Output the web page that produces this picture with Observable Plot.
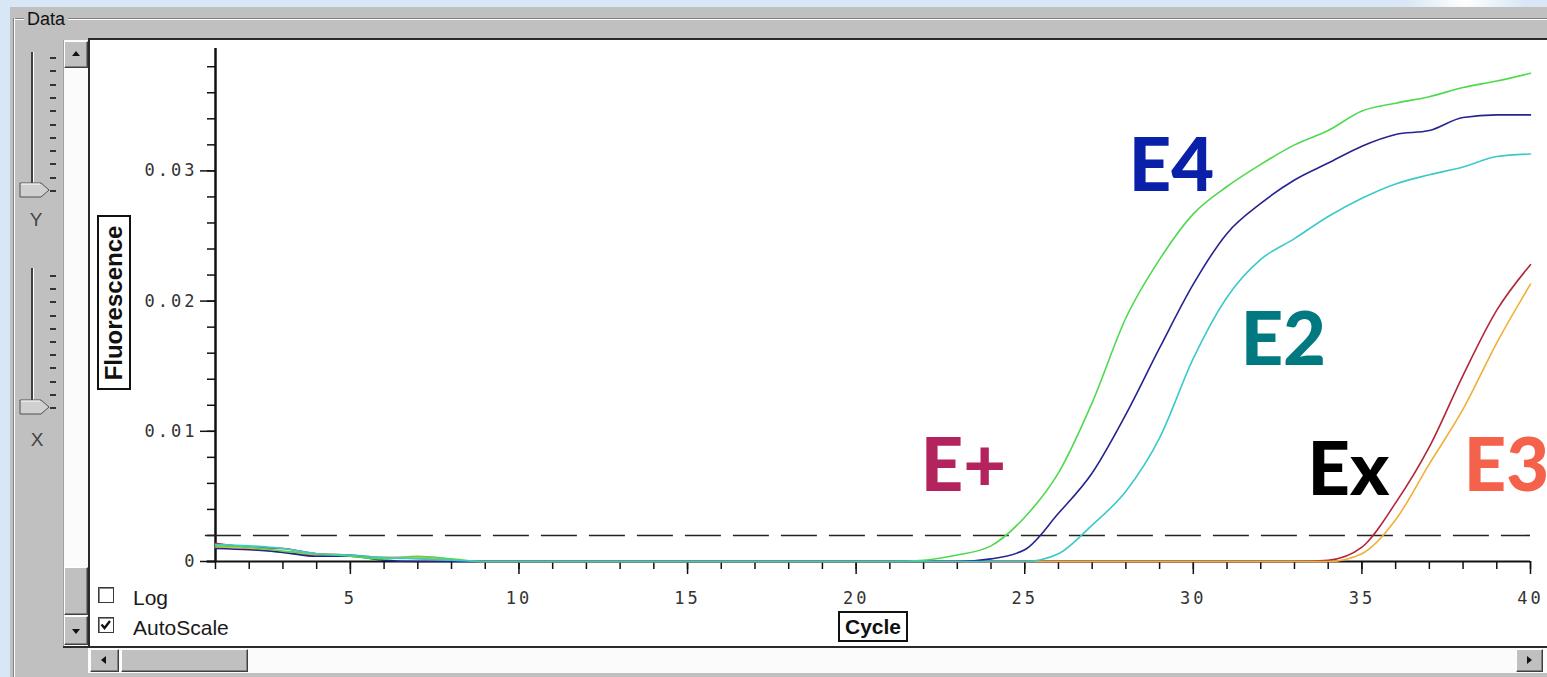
<!DOCTYPE html>
<html><head><meta charset="utf-8">
<script src="https://cdn.jsdelivr.net/npm/d3@7"></script>
<script src="https://cdn.jsdelivr.net/npm/@observablehq/plot@0.6"></script>
<style>
html,body{margin:0;padding:0;}
body{width:1547px;height:677px;position:relative;overflow:hidden;
  background:radial-gradient(ellipse 60px 40px at 1465px 0px,#ffffff 0%,#e8f0fa 60%,rgba(216,231,246,0) 100%),#d8e7f6;
  font-family:"Liberation Sans",Arial,sans-serif;}
.a{position:absolute;box-sizing:border-box;}
.btn{background:#c0c0c0;border-top:1px solid #fff;border-left:1px solid #fff;border-bottom:1px solid #404040;border-right:1px solid #404040;box-shadow:inset -1px -1px #808080;}
.tri{position:absolute;width:0;height:0;}
.cb{width:16px;height:16px;background:#fff;border:1px solid #3a3a3a;box-shadow:inset 1px 1px #8a8a8a;}
.cbtxt{font-size:21px;color:#1a1a1a;line-height:21px;}
#chart svg{display:block;}
</style></head>
<body>
<div class="a" style="left:10px;top:7px;width:1537px;height:670px;background:#c0c0c0;"></div>
<!-- group box etched lines -->
<div class="a" style="left:13px;top:18px;width:1534px;height:2px;border-top:1px solid #808080;border-bottom:1px solid #fff;"></div>
<div class="a" style="left:13px;top:18px;width:2px;height:659px;border-left:1px solid #808080;border-right:1px solid #fff;"></div>
<div class="a" style="left:24px;top:9px;padding:0 3px;background:#c0c0c0;font-size:18px;line-height:20px;color:#111;">Data</div>

<!-- sliders -->
<div class="a" style="left:31px;top:52px;width:3px;height:140px;background:#404040;border-right:1px solid #fff;"></div>
<div id="yticks"></div>
<div class="a" style="left:31px;top:268px;width:3px;height:140px;background:#404040;border-right:1px solid #fff;"></div>
<svg class="a" style="left:19px;top:181px;" width="32" height="18"><path d="M1,2 H22 L30,9 L22,16 H1 Z" fill="#d0d0d0" stroke="#505050"/><path d="M2,3 H21" stroke="#fff"/></svg>
<svg class="a" style="left:19px;top:398px;" width="32" height="18"><path d="M1,2 H22 L30,9 L22,16 H1 Z" fill="#d0d0d0" stroke="#505050"/><path d="M2,3 H21" stroke="#fff"/></svg>
<div class="a" style="left:26px;top:209px;width:20px;text-align:center;font-size:19px;color:#444;">Y</div>
<div class="a" style="left:27px;top:429px;width:20px;text-align:center;font-size:19px;color:#444;">X</div>

<!-- plot frame -->
<div class="a" style="left:88px;top:38px;width:1459px;height:610px;background:#fff;border-top:2px solid #2a2a2a;border-left:2px solid #2a2a2a;"></div>
<!-- vertical scrollbar -->
<div class="a" style="left:63px;top:40px;width:25px;height:607px;background:#fbfbfb;border-left:1px solid #a0a0a0;"></div>
<div class="a btn" style="left:64px;top:41px;width:24px;height:27px;"><div class="tri" style="left:7px;top:9px;border-left:4px solid transparent;border-right:4px solid transparent;border-bottom:5px solid #111;"></div></div>
<div class="a btn" style="left:64px;top:567px;width:24px;height:48px;"></div>
<div class="a btn" style="left:64px;top:616px;width:24px;height:29px;"><div class="tri" style="left:7px;top:12px;border-left:4px solid transparent;border-right:4px solid transparent;border-top:5px solid #111;"></div></div>
<!-- horizontal scrollbar -->
<div class="a" style="left:63px;top:646px;width:1484px;height:2px;background:#2a2a2a;"></div>
<div class="a" style="left:88px;top:648px;width:1459px;height:25px;background:#fbfbfb;"></div>
<div class="a btn" style="left:90px;top:649px;width:29px;height:23px;"><div class="tri" style="left:10px;top:6px;border-top:4px solid transparent;border-bottom:4px solid transparent;border-right:5px solid #111;"></div></div>
<div class="a btn" style="left:121px;top:649px;width:127px;height:23px;"></div>
<div class="a btn" style="left:1516px;top:649px;width:27px;height:23px;"><div class="tri" style="left:10px;top:6px;border-top:4px solid transparent;border-bottom:4px solid transparent;border-left:5px solid #111;"></div></div>

<div id="chart" class="a" style="left:91px;top:42px;"></div>

<!-- axis titles and options -->
<div class="a" style="left:97px;top:215px;width:34px;height:175px;border:2px solid #111;background:#fff;">
  <div class="a" style="left:50%;top:50%;transform:translate(-50%,-50%) rotate(-90deg);font-weight:bold;font-size:24px;white-space:nowrap;color:#111;">Fluorescence</div>
</div>
<div class="a" style="left:838px;top:611px;width:70px;height:31px;border:2px solid #111;background:#fff;text-align:center;font-weight:bold;font-size:21px;line-height:27px;color:#111;">Cycle</div>
<div class="a cb" style="left:98px;top:587px;"></div>
<div class="a cbtxt" style="left:133px;top:587px;">Log</div>
<div class="a cb" style="left:98px;top:617px;"><svg width="14" height="14" style="position:absolute;left:0;top:0"><path d="M2.5,6.5 L5.5,10 L11,3" fill="none" stroke="#111" stroke-width="2.4"/></svg></div>
<div class="a cbtxt" style="left:133px;top:617px;">AutoScale</div>

<script>
// ---- data ----
const cycles = [1,2,3,4,5,6,7,8,9,10,11,12,13,14,15,16,17,18,19,20,21,22,23,24,25,26,27,28,29,30,31,32,33,34,35,36,37,38,39,40];
const greenValues  = [0.0012,0.0011,0.0008,0.0006,0.0004,0.0002,0.0004,0.0002,0,0,0,0,0,0,0,0,0,0,0,0,0,0.0001,0.0005,0.0012,0.0034,0.0068,0.0122,0.0187,0.0232,0.0267,0.0288,0.0305,0.0320,0.0331,0.0346,0.0352,0.0357,0.0364,0.0369,0.0375];
const navyValues   = [0.0010,0.0009,0.0007,0.0004,0.0004,0.0001,0,0,0,0,0,0,0,0,0,0,0,0,0,0,0,0,0,0.0002,0.0009,0.0037,0.0068,0.0113,0.0164,0.0213,0.0252,0.0275,0.0293,0.0306,0.0319,0.0328,0.0331,0.0341,0.0343,0.0343];
const cyanValues   = [0.0013,0.0012,0.0010,0.0006,0.0005,0.0003,0.0002,0.0001,0,0,0,0,0,0,0,0,0,0,0,0,0,0,0,0,0,0.0006,0.0028,0.0054,0.0095,0.0156,0.0203,0.0232,0.0248,0.0265,0.0279,0.0290,0.0297,0.0303,0.0311,0.0313];
const redValues    = [0.0014,0.0011,0.0010,0.0006,0.0005,0.0003,0.0003,0.0001,0,0,0,0,0,0,0,0,0,0,0,0,0,0,0,0,0,0,0,0,0,0,0,0,0,0.0001,0.0011,0.0045,0.0088,0.0143,0.0193,0.0228];
const orangeValues = [0.0011,0.0010,0.0007,0.0005,0.0004,0.0003,0.0003,0.0001,0,0,0,0,0,0,0,0,0,0,0,0,0,0,0,0,0,0,0,0,0,0,0,0,0,0,0.0006,0.0032,0.0075,0.0117,0.0168,0.0213];
const threshold = 0.002;
const xMajorTicks = [5,10,15,20,25,30,35,40];
const yMajorTicks = [0,0.01,0.02,0.03];
const labelNames  = ["E+","E4","E2","Ex","E3"];
const labelCycle  = [23.18,29.35,32.67,34.60,39.29];
const labelValue  = [0.00727,0.0303,0.0169,0.0069,0.0072];
const labelColors = ["#b3245f","#0a20a8","#007a80","#000000","#f4624c"];

// drawing order: red, orange, navy, green, cyan (cyan on top)
const seriesList = [
  {values: redValues, color: "#b3263a"},
  {values: orangeValues, color: "#f0b035"},
  {values: navyValues, color: "#25238f"},
  {values: greenValues, color: "#4fd94f"},
  {values: cyanValues, color: "#3cc9c9"}
];

// slider ticks (chrome)
const yt = document.getElementById("yticks");
[[57,190],[275,407]].forEach(([a,b])=>{
  for(let i=0;i<11;i++){
    const d=document.createElement("div");
    d.className="a";
    d.style.cssText=`left:50px;top:${a+i*(b-a)/10}px;width:6px;height:2px;background:#333;`;
    yt.appendChild(d);
  }
});

const tickFont = {fontSize: 17, fontFamily: "DejaVu Sans Mono", fill: "#333"};
const lines = seriesList.map(s => Plot.line(cycles.map((c,i)=>({cycle:c, value:s.values[i]})),
  {x:"cycle", y:"value", stroke:s.color, strokeWidth:1.6, curve:"monotone-x"}));
const texts = labelNames.map((n,i)=>Plot.text([{c:labelCycle[i], v:labelValue[i], t:n}],
  {x:"c", y:"v", text:"t", fill:labelColors[i], fontSize:74, fontWeight:900, fontFamily:"Lato", textAnchor:"middle", lineAnchor:"middle"}));

const chart = Plot.plot({
  width: 1449, height: 606,
  marginLeft: 124, marginRight: 10, marginTop: 6, marginBottom: 87,
  style: {background: "transparent", overflow: "visible"},
  x: {domain: [1, 40]},
  y: {domain: [0, 0.0394]},
  marks: [
    Plot.axisX({ticks: cycles, tickSize: 8, tickFormat: () => "", label: null, stroke: "#111", strokeWidth: 1.5}),
    Plot.axisX({ticks: xMajorTicks, tickSize: 13, tickPadding: 17, label: null, stroke: "#111", strokeWidth: 1.5, ...tickFont}),
    Plot.axisY({ticks: d3.range(0, 0.0391, 0.002), tickSize: 8, tickFormat: () => "", label: null, stroke: "#111", strokeWidth: 1.5}),
    Plot.axisY({ticks: yMajorTicks, tickSize: 15, tickPadding: 3, label: null, stroke: "#111", strokeWidth: 1.5,
      tickFormat: d => d === 0 ? "0" : d.toFixed(2), ...tickFont}),
    Plot.ruleY([0], {x1: 0.75, x2: 40, stroke: "#111", strokeWidth: 2}),
    Plot.ruleX([1], {y1: 0, y2: 0.0394, stroke: "#111", strokeWidth: 2.5}),
    Plot.ruleY([threshold], {x1: 0.7, x2: 40, stroke: "#222", strokeWidth: 1.6, strokeDasharray: "36,12"}),
    ...lines,
    ...texts
  ]
});
document.getElementById("chart").appendChild(chart);
d3.select(chart).selectAll('g[aria-label$="tick label"] text').style("letter-spacing", "3px");
</script>
</body></html>
